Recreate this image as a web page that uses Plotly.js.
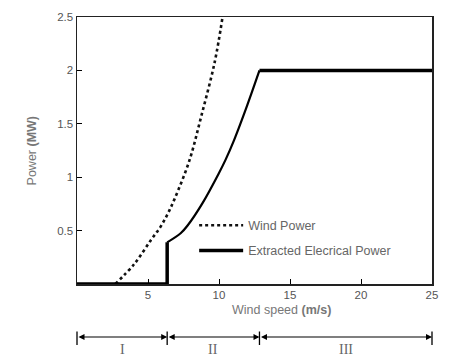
<!DOCTYPE html>
<html>
<head>
<meta charset="utf-8">
<script src="https://cdn.plot.ly/plotly-3.0.1.min.js"></script>
<style>html,body{margin:0;padding:0;background:#fff;}#chart{width:455px;height:358px;}</style>
</head>
<body>
<div id="chart"></div>
<script>
// Wind power (dotted curve)
const windSpeed = [2.7, 4.05, 5.2, 5.9, 6.4, 6.85, 7.9, 8.75, 9.7, 10.25];
const windPower = [0, 0.19, 0.41, 0.54, 0.66, 0.79, 1.15, 1.57, 2.08, 2.5];

// Extracted electrical power, split into its three parts
const belowSpeed = [0, 6.35, 6.35];
const belowPower = [0, 0, 0.39];
const curveSpeed = [6.35, 7.3, 7.8, 8.85, 10.0, 10.45, 11.07, 11.87, 12.85];
const curvePower = [0.39, 0.475, 0.55, 0.76, 1.04, 1.16, 1.35, 1.63, 2.0];
const ratedSpeed = [12.85, 25];
const ratedPower = [2.0, 2.0];

// Operating regions
const regionBounds = [0, 6.35, 12.85, 25];
const regionLabels = ['I', 'II', 'III'];

const xTicks = [5, 10, 15, 20, 25];
const yTicks = [0.5, 1, 1.5, 2, 2.5];

const traces = [
  {x: windSpeed, y: windPower, mode: 'lines', name: 'Wind Power', legendgroup: 'a',
   line: {color: '#111', width: 2.6, dash: 'dot', shape: 'spline', smoothing: 1}},
  {x: belowSpeed, y: belowPower, mode: 'lines', name: 'Extracted Elecrical Power', legendgroup: 'b',
   line: {color: '#000', width: 3.5}},
  {x: curveSpeed, y: curvePower, mode: 'lines', showlegend: false, legendgroup: 'b',
   line: {color: '#000', width: 2.2, shape: 'spline', smoothing: 1}},
  {x: ratedSpeed, y: ratedPower, mode: 'lines', showlegend: false, legendgroup: 'b',
   line: {color: '#000', width: 3.5}}
];

const yArrow = -0.1985;
const annotations = [
  {text: 'Power <b>(MW)</b>', xref: 'paper', yref: 'paper', x: -0.127, y: 0.5, textangle: -90,
   xanchor: 'center', yanchor: 'middle',
   showarrow: false, font: {size: 12.5, color: '#777'}},
  {text: 'Wind speed <b>(m/s)</b>', xref: 'paper', yref: 'paper', x: 0.577, y: -0.097,
   xanchor: 'center', yanchor: 'middle',
   showarrow: false, font: {size: 12.5, color: '#777'}}
];
for (let i = 0; i < regionLabels.length; i++) {
  const a = regionBounds[i], b = regionBounds[i + 1];
  annotations.push({text: '', x: b, y: yArrow, xref: 'x', yref: 'paper', axref: 'x', ax: a,
    ayref: 'pixel', ay: 0, showarrow: true, arrowside: 'end+start', arrowhead: 2,
    arrowsize: 1, arrowwidth: 1.2, arrowcolor: '#000'});
  annotations.push({text: regionLabels[i], x: (a + b) / 2, y: -0.245, xref: 'x', yref: 'paper',
    xanchor: 'center', yanchor: 'middle',
    showarrow: false, font: {family: 'Liberation Serif, serif', size: 14, color: '#666'}});
}
for (const v of regionBounds) {
  annotations.push({text: '', x: v, y: -0.2285, xref: 'x', yref: 'paper', axref: 'pixel', ax: 0,
    ayref: 'pixel', ay: -15, showarrow: true, arrowhead: 0, arrowwidth: 1.3, arrowcolor: '#000'});
}

const layout = {
  width: 455, height: 358,
  margin: {l: 77, r: 23, t: 17, b: 74},
  paper_bgcolor: '#fff', plot_bgcolor: '#fff',
  font: {family: 'Liberation Sans, Arial, sans-serif', size: 11.5, color: '#555'},
  showlegend: true,
  legend: {x: 0.33, y: 0.172, xanchor: 'left', yanchor: 'middle', bgcolor: 'rgba(0,0,0,0)',
    itemwidth: 44, tracegroupgap: 6, font: {size: 12.5, color: '#666'}},
  xaxis: {range: [0, 25], tickvals: xTicks, ticktext: xTicks.map(String), ticks: 'inside', ticklen: 5,
    tickcolor: '#000', showline: true, linecolor: '#222', linewidth: 1.5, mirror: true,
    showgrid: false, zeroline: false, fixedrange: true},
  yaxis: {range: [0, 2.5], tickvals: yTicks, ticktext: yTicks.map(String), ticks: 'inside', ticklen: 5,
    tickcolor: '#000', showline: true, linecolor: '#222', linewidth: 1.5, mirror: true,
    showgrid: false, zeroline: false, fixedrange: true},
  annotations: annotations
};

Plotly.newPlot('chart', traces, layout, {staticPlot: true});
</script>
</body>
</html>
